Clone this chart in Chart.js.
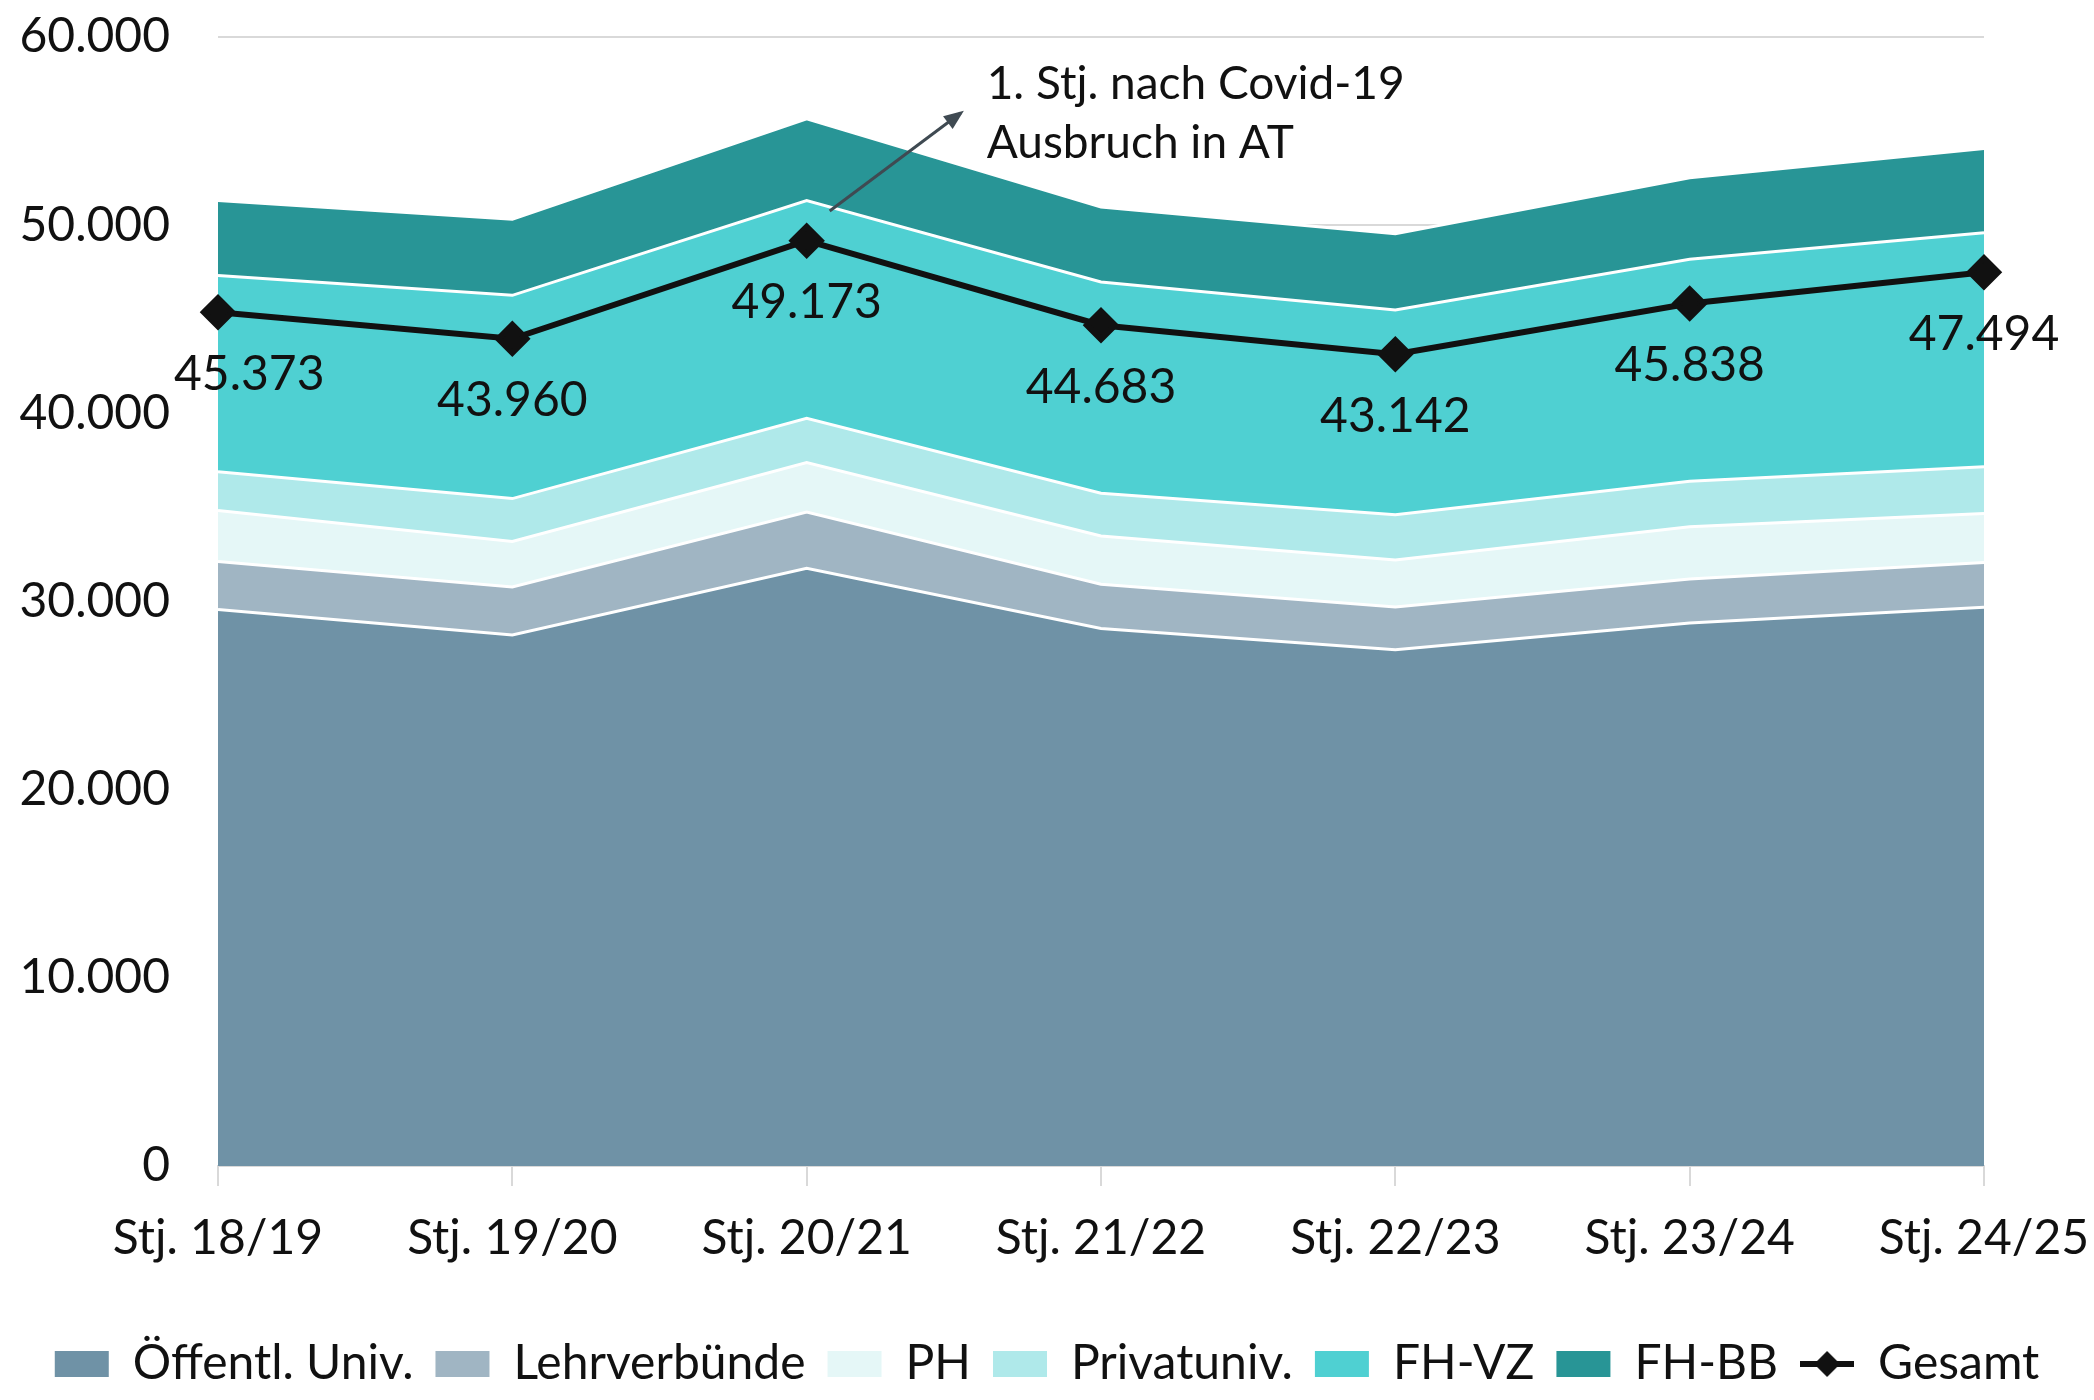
<!DOCTYPE html>
<html>
<head>
<meta charset="utf-8">
<script src="https://cdn.jsdelivr.net/npm/chart.js@4.4.1/dist/chart.umd.min.js"></script>
<style>
  html, body { margin: 0; padding: 0; background: #fff; }
</style>
</head>
<body>
<canvas id="myChart" width="2094" height="1400"></canvas>
<script>
// Studienjahre
const jahre = ['Stj. 18/19', 'Stj. 19/20', 'Stj. 20/21', 'Stj. 21/22', 'Stj. 22/23', 'Stj. 23/24', 'Stj. 24/25'];

// Werte je Sektor (werden gestapelt)
const oeffentlUniv = [29570, 28220, 31770, 28570, 27430, 28860, 29700];
const lehrverbuende = [2560, 2550, 2980, 2350, 2280, 2340, 2370];
const ph = [2700, 2420, 2630, 2560, 2490, 2770, 2610];
const privatuniv = [2060, 2280, 2350, 2270, 2410, 2420, 2480];
const fhVz = [10440, 10800, 11580, 11230, 10880, 11800, 12440];
const fhBb = [3980, 4050, 4340, 3980, 4050, 4330, 4470];
const gesamt = [45373, 43960, 49173, 44683, 43142, 45838, 47494];

const yTicks = [0, 10000, 20000, 30000, 40000, 50000, 60000];
const hinweis = ['1. Stj. nach Covid-19', 'Ausbruch in AT'];

const schrift = 'Lato';

// Tausenderpunkt wie im Original
function fmt(n) {
    return String(n).replace(/\B(?=(\d{3})+(?!\d))/g, '.');
}

function flaeche(label, data, color, fill) {
    return {
        label: label,
        data: data,
        backgroundColor: color,
        borderColor: '#ffffff',
        borderWidth: 3,
        fill: fill,
        pointRadius: 0,
        pointHoverRadius: 0,
        tension: 0,
        stack: 'sektoren',
        order: 1
    };
}

// Legendensymbol fuer die Gesamt-Linie (Linie mit Raute)
const gesamtSymbol = document.createElement('canvas');
gesamtSymbol.width = 54;
gesamtSymbol.height = 30;
(function() {
    const c = gesamtSymbol.getContext('2d');
    c.strokeStyle = '#111';
    c.lineWidth = 6;
    c.beginPath();
    c.moveTo(0, 15);
    c.lineTo(54, 15);
    c.stroke();
    c.fillStyle = '#111';
    c.beginPath();
    c.moveTo(27, 2);
    c.lineTo(40, 15);
    c.lineTo(27, 28);
    c.lineTo(14, 15);
    c.closePath();
    c.fill();
})();

// Werte unter der Linie + Hinweis mit Pfeil
const beschriftung = {
    id: 'beschriftung',
    afterDatasetsDraw(chart) {
        const ctx = chart.ctx;
        const meta = chart.getDatasetMeta(6);
        ctx.save();
        ctx.font = '48px ' + schrift;
        ctx.fillStyle = '#111';
        ctx.textAlign = 'center';
        ctx.textBaseline = 'middle';
        meta.data.forEach((pt, i) => {
            const txt = fmt(gesamt[i]);
            const w = ctx.measureText(txt).width;
            // nicht weiter als bis knapp vor die Achse nach links
            const x = Math.max(pt.x, chart.chartArea.left - 44 + w / 2);
            ctx.fillText(txt, x, pt.y + 62);
        });

        const xs = chart.scales.x, ys = chart.scales.y;
        const x0 = xs.getPixelForValue(2) + 23;
        const y0 = ys.getPixelForValue(50750);
        const x1 = x0 + 131;
        const y1 = y0 - 98;
        ctx.strokeStyle = '#3f4a52';
        ctx.fillStyle = '#3f4a52';
        ctx.lineWidth = 3;
        ctx.beginPath();
        ctx.moveTo(x0, y0);
        ctx.lineTo(x1, y1);
        ctx.stroke();
        const a = Math.atan2(y1 - y0, x1 - x0);
        ctx.beginPath();
        ctx.moveTo(x1 + 4 * Math.cos(a), y1 + 4 * Math.sin(a));
        ctx.lineTo(x1 - 16 * Math.cos(a) + 8 * Math.sin(a), y1 - 16 * Math.sin(a) - 8 * Math.cos(a));
        ctx.lineTo(x1 - 16 * Math.cos(a) - 8 * Math.sin(a), y1 - 16 * Math.sin(a) + 8 * Math.cos(a));
        ctx.closePath();
        ctx.fill();

        ctx.fillStyle = '#111';
        ctx.textAlign = 'left';
        ctx.font = '46px ' + schrift;
        ctx.fillText(hinweis[0], x1 + 26, y1 - 29);
        ctx.fillText(hinweis[1], x1 + 26, y1 + 30);
        ctx.restore();
    }
};

const ctx = document.getElementById('myChart').getContext('2d');
const myChart = new Chart(ctx, {
    type: 'line',
    data: {
        labels: jahre,
        datasets: [
            flaeche('Öffentl. Univ.', oeffentlUniv, '#6f92a6', 'origin'),
            flaeche('Lehrverbünde', lehrverbuende, '#a0b5c3', '-1'),
            flaeche('PH', ph, '#e5f7f7', '-1'),
            flaeche('Privatuniv.', privatuniv, '#afe9ea', '-1'),
            flaeche('FH-VZ', fhVz, '#4fd0d2', '-1'),
            flaeche('FH-BB', fhBb, '#289596', '-1'),
            {
                label: 'Gesamt',
                data: gesamt,
                borderColor: '#111',
                backgroundColor: '#111',
                borderWidth: 6,
                fill: false,
                pointStyle: 'rectRot',
                pointRadius: 14,
                pointHoverRadius: 14,
                tension: 0,
                stack: 'gesamt',
                order: 0
            }
        ]
    },
    options: {
        responsive: false,
        animation: false,
        devicePixelRatio: 1,
        layout: {
            padding: { top: 37, right: 0, bottom: 2, left: 0 }
        },
        plugins: {
            tooltip: { enabled: false },
            legend: {
                position: 'bottom',
                labels: {
                    usePointStyle: true,
                    pointStyleWidth: 54,
                    boxWidth: 54,
                    boxHeight: 26,
                    padding: 22,
                    color: '#111',
                    font: { family: schrift, size: 48, lineHeight: 1 },
                    generateLabels(chart) {
                        const items = Chart.defaults.plugins.legend.labels.generateLabels(chart);
                        items.forEach(it => {
                            if (it.datasetIndex === 6) {
                                it.pointStyle = gesamtSymbol;
                            } else {
                                it.pointStyle = 'rect';
                                it.lineWidth = 0;
                                it.fillStyle = chart.data.datasets[it.datasetIndex].backgroundColor;
                            }
                        });
                        return items.sort((a, b) => a.datasetIndex - b.datasetIndex);
                    }
                }
            }
        },
        scales: {
            x: {
                offset: false,
                grid: {
                    display: true,
                    drawOnChartArea: false,
                    drawTicks: true,
                    tickLength: 20,
                    color: '#d9d9d9',
                    lineWidth: 2
                },
                border: { display: true, color: '#d9d9d9', width: 2 },
                ticks: {
                    color: '#111',
                    padding: 24,
                    maxRotation: 0,
                    font: { family: schrift, size: 48 }
                },
                afterFit(scale) {
                    scale.height = 152;
                    scale.paddingRight = 110;
                }
            },
            y: {
                stacked: true,
                min: 0,
                max: 60000,
                afterBuildTicks(scale) {
                    scale.ticks = yTicks.map(v => ({ value: v }));
                },
                grid: { color: '#d9d9d9', lineWidth: 2, drawTicks: false },
                border: { display: false },
                ticks: {
                    color: '#111',
                    padding: 48,
                    font: { family: schrift, size: 48 },
                    callback: (v) => fmt(v)
                },
                afterFit(scale) {
                    scale.width = 218;
                    scale.paddingTop = 0;
                    scale.paddingBottom = 0;
                }
            }
        }
    },
    plugins: [beschriftung]
});
</script>
</body>
</html>
